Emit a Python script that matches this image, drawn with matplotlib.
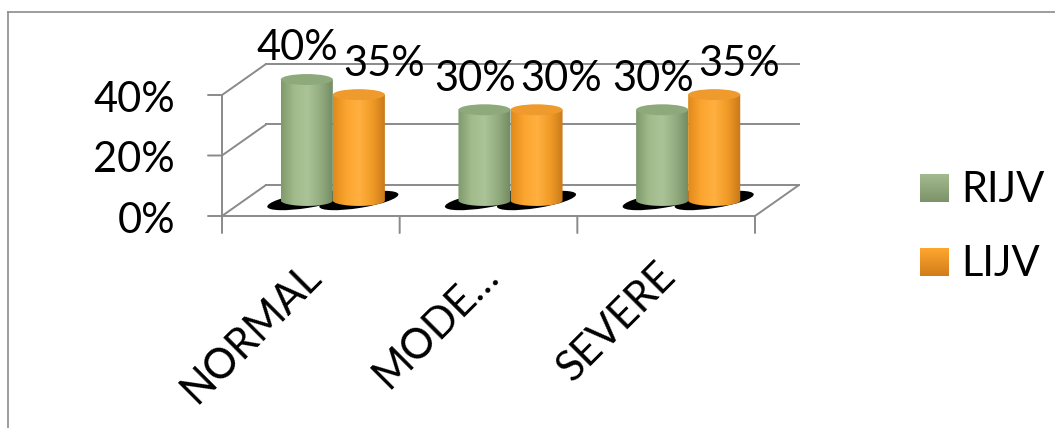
import numpy as np
import matplotlib
matplotlib.use("Agg")
import matplotlib.pyplot as plt
from matplotlib import transforms as mtransforms
from matplotlib.patches import Ellipse, PathPatch, ConnectionPatch
from matplotlib.path import Path
from matplotlib.colors import to_rgb

# ---- data -------------------------------------------------------------
categories = ["NORMAL", "MODERATE", "SEVERE"]
tick_labels = ["NORMAL", "MODE\u2026", "SEVERE"]
series_names = ["RIJV", "LIJV"]
rijv = [0.40, 0.30, 0.30]
lijv = [0.35, 0.30, 0.35]
y_ticks = [0.0, 0.2, 0.4]
y_tick_labels = ["0%", "20%", "40%"]

# ---- figure -----------------------------------------------------------
W, H, DPI = 1055, 428, 100
plt.rcParams['font.family'] = ['Lato', 'DejaVu Sans']
fig = plt.figure(figsize=(W / DPI, H / DPI), dpi=DPI)
fig.patch.set_facecolor('white')

# front plane of the 3-D box (pixel geometry, measured from the top)
left_px, right_px = 222, 755
base_px, top_px = 216, 95
ax = fig.add_axes([left_px / W, 1 - base_px / H,
                   (right_px - left_px) / W, (base_px - top_px) / H])
ax.set_axis_off()

px = mtransforms.Affine2D().scale(1 / DPI) + fig.dpi_scale_trans


def shifted(dx, dy):
    """Data transform pushed by (dx, dy) pixels."""
    return ax.transData + mtransforms.ScaledTranslation(dx / DPI, dy / DPI,
                                                        fig.dpi_scale_trans)


def at_point(x, y, base):
    """Pixel-unit transform with its origin at data point (x, y)."""
    return px + mtransforms.ScaledTranslation(x, y, base)


DEPTH = (44, 31)
back = shifted(*DEPTH)
mid = shifted(DEPTH[0] / 2, DEPTH[1] / 2)
grid_c = '#8a8a8a'
grid_lw = 1.4
n = len(categories)

ax.set_xlim(0, n)
ax.set_ylim(0, 0.4)

# ---- walls and floor --------------------------------------------------
for v, lab in zip(y_ticks, y_tick_labels):
    ax.plot([0, n], [v, v], transform=back, color=grid_c, lw=grid_lw,
            clip_on=False, zorder=1)
    ax.add_artist(ConnectionPatch((0, v), (0, v), ax.transData, back,
                                  color=grid_c, lw=grid_lw, zorder=1))
    # tick marks on the value axis
    ax.add_artist(ConnectionPatch((0, v), (0, v), ax.transData, shifted(-14, 0),
                                  color=grid_c, lw=grid_lw, zorder=1))
    ax.text(0, v, lab, transform=shifted(-47, -17),
            ha='right', va='baseline', fontsize=30, color='black')

ax.plot([0, n], [0, 0], color=grid_c, lw=grid_lw, clip_on=False, zorder=1)
ax.plot([0, 0], [0, max(y_ticks)], color=grid_c, lw=grid_lw, clip_on=False, zorder=1)
ax.add_artist(ConnectionPatch((n, 0), (n, 0), ax.transData, back,
                              color=grid_c, lw=grid_lw, zorder=1))
for i in range(n + 1):
    ax.add_artist(ConnectionPatch((i, 0), (i, 0), ax.transData, shifted(0, -17),
                                  color=grid_c, lw=grid_lw, zorder=1))

# ---- cylinders --------------------------------------------------------
bw = 0.293            # bar width in category units
eh = 0.018            # half height of the elliptical caps in value units
styles = [
    dict(stops=['#7f9a6c', '#a2bb8d', '#abc497', '#94ad80', '#738a60'],
         top='#8ea97b'),
    dict(stops=['#e08a1c', '#fca530', '#ffb040', '#f09a26', '#c8781a'],
         top='#ee9a2c'),
]
label_dx = [-9, 25]


def body_path(x0, v):
    t = np.linspace(np.pi, 2 * np.pi, 60)
    cx = x0 + bw / 2
    xs = cx + bw / 2 * np.cos(t)
    ys = eh * np.sin(t)
    verts = np.column_stack([xs, ys])
    verts = np.vstack([verts, [[x0 + bw, v], [x0, v], verts[0]]])
    return Path(verts, closed=True)


def gradient(stops, n_px=64):
    cols = np.array([to_rgb(c) for c in stops])
    pos = np.linspace(0, 1, len(stops))
    xs = np.linspace(0, 1, n_px)
    row = np.column_stack([np.interp(xs, pos, cols[:, k]) for k in range(3)])
    return row[np.newaxis, :, :]


for s, values in enumerate([rijv, lijv]):
    st = styles[s]
    for i, v in enumerate(values):
        x0 = i + 0.5 - bw if s == 0 else i + 0.5
        cx = x0 + bw / 2
        # floor shadow
        ax.add_patch(Ellipse((0, 0), 80, 15, angle=9,
                             transform=at_point(cx, 0, mid),
                             fc='black', ec='none', zorder=2 + s * 0.1,
                             clip_on=False))
        # shaded body
        patch = PathPatch(body_path(x0, v), transform=mid, fc='none',
                          ec='none', clip_on=False)
        ax.add_patch(patch)
        im = ax.imshow(gradient(st['stops']), extent=(x0, x0 + bw, -eh, v),
                       transform=mid, aspect='auto', interpolation='bilinear',
                       zorder=3 + s)
        im.set_clip_box(fig.bbox)
        im.set_clip_path(patch)
        # top cap
        ax.add_patch(Ellipse((cx, v), bw, 2 * eh, transform=mid,
                             fc=st['top'], ec='none', zorder=3.5 + s,
                             clip_on=False))
        # value label
        ax.text(cx, v, f"{round(v * 100)}%",
                transform=shifted(DEPTH[0] / 2 + label_dx[s], DEPTH[1] / 2 + 19),
                ha='center', va='baseline', fontsize=30, color='black',
                zorder=6)

ax.set_xlim(0, n)
ax.set_ylim(0, 0.4)

# ---- category labels --------------------------------------------------
for i, lab in enumerate(tick_labels):
    ax.text(i + 0.5, 0, lab, transform=shifted(12, -62), rotation=45,
            rotation_mode='anchor', ha='right', va='baseline', fontsize=30,
            color='black')

# ---- legend -----------------------------------------------------------
legend_cols = [('#a3b98e', '#7d9369'), ('#ffa62e', '#d27d1b')]
for k, name in enumerate(series_names):
    top_y = 174 + k * 74
    lax = fig.add_axes([920 / W, 1 - (top_y + 28) / H, 28 / W, 28 / H])
    lax.set_axis_off()
    c0, c1 = (np.array(to_rgb(c)) for c in legend_cols[k])
    grad = np.linspace(0, 1, 32)[:, None, None] * (c1 - c0) + c0
    lax.imshow(np.repeat(grad, 2, axis=1), aspect='auto',
               extent=(0, 1, 0, 1), interpolation='bilinear')
    fig.text(961 / W, 1 - (top_y + 28) / H, name, fontsize=30,
             ha='left', va='baseline', color='black')

# ---- chart area border ------------------------------------------------
border_c = '#8c8c8c'
fig.add_artist(plt.Line2D([8, W + 5], [H - 12, H - 12], transform=px,
                          color=border_c, lw=1.2))
fig.add_artist(plt.Line2D([8, 8], [H - 12, -5], transform=px,
                          color=border_c, lw=1.2))

fig.savefig('out.png', dpi=DPI, facecolor='white')
